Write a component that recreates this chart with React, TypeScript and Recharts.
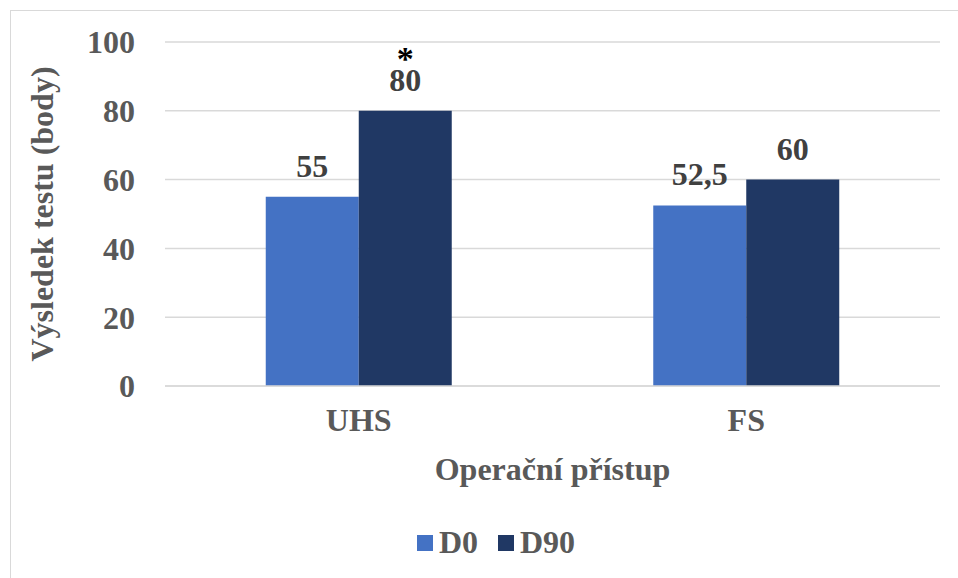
import React from "react";
import { BarChart, Bar, XAxis, YAxis, CartesianGrid, Legend, LabelList, Label } from "recharts";

const categories = ["UHS", "FS"];
const d0Values = [55, 52.5];
const d90Values = [80, 60];
const d90Marks = ["*", ""];
const yTicks = [0, 20, 40, 60, 80, 100];
const seriesNames = ["D0", "D90"];
const colors = ["#4472C4", "#203864"];
const yAxisTitle = "Výsledek testu (body)";
const xAxisTitle = "Operační přístup";

const data = categories.map((c, i) => ({ name: c, D0: d0Values[i], D90: d90Values[i], mark: d90Marks[i] }));

const FONT = "'Liberation Serif', 'Times New Roman', serif";
const FS = 32;
const fmt = (v: any) => String(v).replace(".", ",");

const ValueLabel = (props: any) => {
  const { x, y, width, value } = props;
  return (
    <text x={x + width / 2} y={y - 20} textAnchor="middle" fontFamily={FONT} fontWeight="bold" fontSize={FS} fill="#404040">
      {fmt(value)}
    </text>
  );
};

const MarkLabel = (props: any) => {
  const { x, y, width, value } = props;
  if (!value) return null;
  return (
    <text x={x + width / 2} y={y - 34} textAnchor="middle" dominantBaseline="text-after-edge" fontFamily={FONT} fontWeight="bold" fontSize={34} fill="#000000">
      {value}
    </text>
  );
};

const LegendContent = () => (
  <div style={{ display: "flex", justifyContent: "center", alignItems: "center", fontFamily: FONT, fontWeight: "bold", fontSize: FS, color: "#595959", paddingLeft: 52, paddingTop: 26 }}>
    {seriesNames.map((n, i) => (
      <div key={n} style={{ display: "flex", alignItems: "center", marginRight: i === 0 ? 20 : 0 }}>
        <div style={{ width: 16, height: 16, background: colors[i], marginRight: 6 }} />
        <span>{n}</span>
      </div>
    ))}
  </div>
);

export default function App() {
  return (
    <div style={{ position: "absolute", left: 0, top: 0, width: 958, height: 578, background: "#fff" }}>
      <div style={{ position: "absolute", left: 10, top: 10, width: 960, height: 580, borderTop: "1.5px solid #d9d9d9", borderLeft: "1.5px solid #d9d9d9" }} />
      <div style={{ position: "absolute", left: 0, top: 0 }}>
        <BarChart width={958} height={578} data={data} margin={{ top: 42, right: 18, left: 0, bottom: 0 }} barCategoryGap="26%" barGap={0}>
          <CartesianGrid vertical={false} stroke="#d9d9d9" strokeWidth={1.5} />
          <XAxis dataKey="name" axisLine={{ stroke: "#d9d9d9", strokeWidth: 1.5 }} tickLine={false} tickSize={0} tickMargin={22}
            height={112} tick={{ fontFamily: FONT, fontWeight: "bold", fontSize: FS, fill: "#595959" }}>
            <Label content={(p: any) => {
              const vb = p.viewBox;
              return (
                <text x={vb.x + vb.width / 2} y={vb.y + 94} textAnchor="middle" fontFamily={FONT} fontWeight="bold" fontSize={FS} fill="#595959">{xAxisTitle}</text>
              );
            }} />
          </XAxis>
          <YAxis domain={[0, 100]} ticks={yTicks} axisLine={false} tickLine={false} tickSize={0} tickMargin={30} width={165}
            tick={{ fontFamily: FONT, fontWeight: "bold", fontSize: FS, fill: "#595959" }}>
            <Label content={(p: any) => {
              const vb = p.viewBox;
              const cy = vb.y + vb.height / 2;
              return (
                <text x={53} y={cy} transform={`rotate(-90, 53, ${cy})`} textAnchor="middle" fontFamily={FONT} fontWeight="bold" fontSize={FS} fill="#595959">{yAxisTitle}</text>
              );
            }} />
          </YAxis>
          <Legend verticalAlign="bottom" height={80} content={<LegendContent />} />
          <Bar dataKey="D0" fill={colors[0]} isAnimationActive={false}>
            <LabelList dataKey="D0" content={<ValueLabel />} />
          </Bar>
          <Bar dataKey="D90" fill={colors[1]} isAnimationActive={false}>
            <LabelList dataKey="D90" content={<ValueLabel />} />
            <LabelList dataKey="mark" content={<MarkLabel />} />
          </Bar>
        </BarChart>
      </div>
    </div>
  );
}
